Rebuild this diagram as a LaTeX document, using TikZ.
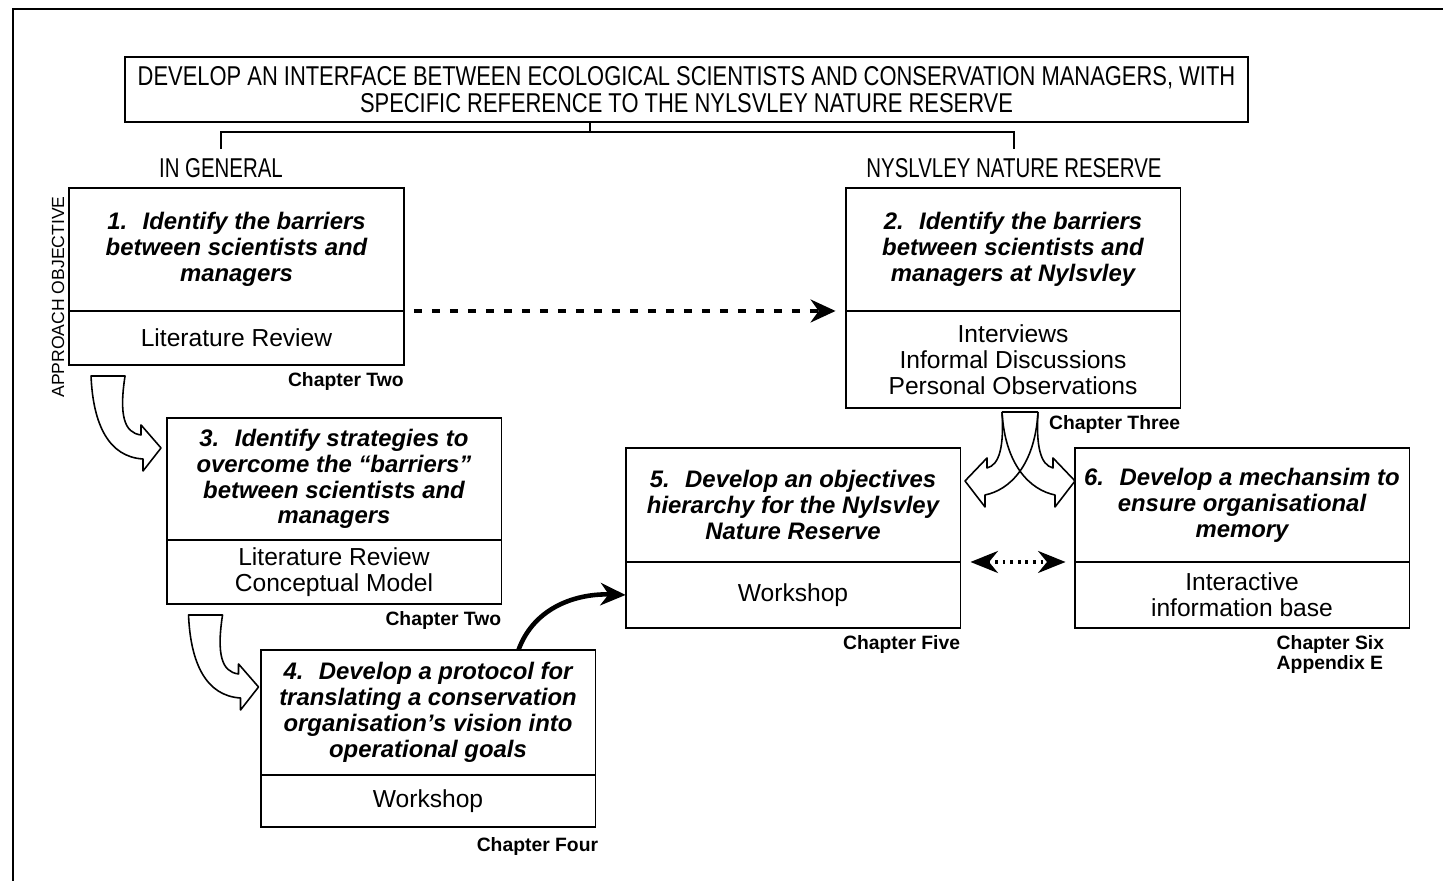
\documentclass[tikz,border=0pt]{standalone}
\usepackage{fontspec}
\setmainfont{Liberation Sans}
\newfontfamily\narrowsans[FakeStretch=0.75]{Liberation Sans}
\newfontfamily\titlesans[FakeStretch=0.805]{Liberation Sans}
\usetikzlibrary{positioning,calc,arrows.meta}

\begin{document}
\begin{tikzpicture}[x=0.02cm,y=-0.02cm]
    % `aim' is the bold italic upper part of an objective box,
    % `method' is the lower part that says how it was done.
    % `hollow' is used for the open (outlined) bent arrows.
    \tikzstyle{aim} = [draw,line width=1.1pt,outer sep=0pt,inner sep=0pt,minimum width=6.7cm,align=center,font=\fontsize{13.6}{14.7}\selectfont\bfseries\itshape]
    \tikzstyle{method} = [draw,line width=1.1pt,outer sep=0pt,inner sep=0pt,minimum width=6.7cm,align=center,font=\fontsize{14}{14.7}\selectfont]
    \tikzstyle{chapter} = [inner sep=0pt,align=left,font=\fontsize{11}{11.3}\selectfont\bfseries]
    \tikzstyle{branch} = [inner sep=0pt,font=\narrowsans\fontsize{15.5}{15.3}\selectfont]
    \tikzstyle{hollow} = [draw,line width=0.9pt,line join=round]
    %
    \useasboundingbox (0,0) rectangle (1443,881);
    \draw[line width=1.2pt] (1443,9) -| (13,881);
    %
    \node[draw,line width=1.1pt,minimum width=22.46cm,minimum height=1.3cm,inner sep=0pt,align=center,
          font=\titlesans\fontsize{15.5}{15.3}\selectfont] (title) at (686.5,89.5)
          {DEVELOP AN INTERFACE BETWEEN ECOLOGICAL SCIENTISTS AND CONSERVATION MANAGERS, WITH\\
           SPECIFIC REFERENCE TO THE NYLSVLEY NATURE RESERVE};
    \node[branch] (gen) at (221,168) {IN GENERAL};
    \node[branch] (nyr) at (1014,168) {NYSLVLEY NATURE RESERVE};
    \coordinate (fork) at (590,132);
    \draw[line width=1.1pt] (fork |- title.south) -- (fork);
    \draw[line width=1.1pt] ([yshift=5pt]gen.north) |- (fork) -| ([yshift=5pt]nyr.north);
    \node[rotate=90,inner sep=0pt,font=\fontsize{10}{10}\selectfont] (appr) at (58,297) {APPROACH OBJECTIVE};
    %
    % objective boxes
    \node[aim,minimum height=2.46cm] (b1) at (236.5,249.5) {1.~ Identify the barriers\\between scientists and\\managers};
    \node[method,minimum height=1.08cm,below=0pt of b1] (b1m) {Literature Review};
    \node[chapter,below left=0.14cm and 0pt of b1m.south east] (c1) {Chapter Two};
    %
    \node[aim,minimum height=2.46cm] (b2) at (1013,249.5) {2.~ Identify the barriers\\between scientists and\\managers at Nylsvley};
    \node[method,minimum height=1.94cm,below=0pt of b2] (b2m) {Interviews\\Informal Discussions\\Personal Observations};
    \node[chapter,below left=0.14cm and 0pt of b2m.south east] (c2) {Chapter Three};
    %
    \node[aim,minimum height=2.44cm] (b3) at (334,479) {3.~ Identify strategies to\\overcome the “barriers”\\between scientists and\\managers};
    \node[method,minimum height=1.28cm,below=0pt of b3] (b3m) {Literature Review\\Conceptual Model};
    \node[chapter,below left=0.14cm and 0pt of b3m.south east] (c3) {Chapter Two};
    %
    \node[aim,minimum height=2.5cm] (b4) at (428,712.5) {4.~ Develop a protocol for\\translating a conservation\\organisation’s vision into\\operational goals};
    \node[method,minimum height=1.04cm,below=0pt of b4] (b4m) {Workshop};
    \node[chapter,below left=0.2cm and -0.06cm of b4m.south east] (c4) {Chapter Four};
    %
    \node[aim,minimum height=2.28cm] (b5) at (793,505) {5.~ Develop an objectives\\hierarchy for the Nylsvley\\Nature Reserve};
    \node[method,minimum height=1.32cm,below=0pt of b5] (b5m) {Workshop};
    \node[chapter,below left=0.14cm and 0pt of b5m.south east] (c5) {Chapter Five};
    %
    \node[aim,minimum height=2.28cm] (b6) at (1242,505) {6.~ Develop a mechansim to\\ensure organisational\\memory};
    \node[method,minimum height=1.32cm,below=0pt of b6] (b6m) {Interactive\\information base};
    \node[chapter,below left=0.14cm and 0.5cm of b6m.south east] (c6) {Chapter Six\\Appendix E};
    %
    % connectors
    \draw[line width=2pt,dash pattern=on 0.16cm off 0.2cm,shorten <=0.2cm,shorten >=0.2cm,
          -{Stealth[length=0.5cm,width=0.46cm]}] (b1.south east) -- (b2.south west);
    \draw[line width=2pt,dash pattern=on 1.5pt off 2.8pt,shorten <=0.2cm,shorten >=0.18cm,
          {Stealth[length=0.55cm,width=0.44cm]}-{Stealth[length=0.55cm,width=0.44cm]}] (b5.south east) -- (b6.south west);
    \draw[line width=2.6pt,-{Stealth[length=0.5cm,width=0.45cm]}] ($(b4.north east)+(-77,0)$) to[out=70,in=178] (b5m.west);
    %
    \foreach \src in {b1m,b3m}
      \draw[hollow,shift={(\src.south west)}] (22,11) -- (56,11) .. controls (50,50) and (55,68) .. (72,70)
            -- (72,60) -- (92,83) -- (74,106) -- (74,94) .. controls (40,92) and (24,60) .. (22,11) -- cycle;
    \begin{scope}[shift={($(b2m.south)+(7,4)$)}]
      \draw[hollow] (-18,0) -- (18,0);
      \draw[hollow] (-18,0) .. controls (-16,33) and (-20,53) .. (-33,56) -- (-33,46) -- (-55,69) -- (-35,95)
            -- (-35,83) .. controls (-10,78) and (15,53) .. (18,0);
      \draw[hollow] (18,0) .. controls (16,33) and (20,53) .. (33,56) -- (33,46) -- (55,69) -- (35,95)
            -- (35,83) .. controls (10,78) and (-15,53) .. (-18,0);
    \end{scope}
\end{tikzpicture}
\end{document}
